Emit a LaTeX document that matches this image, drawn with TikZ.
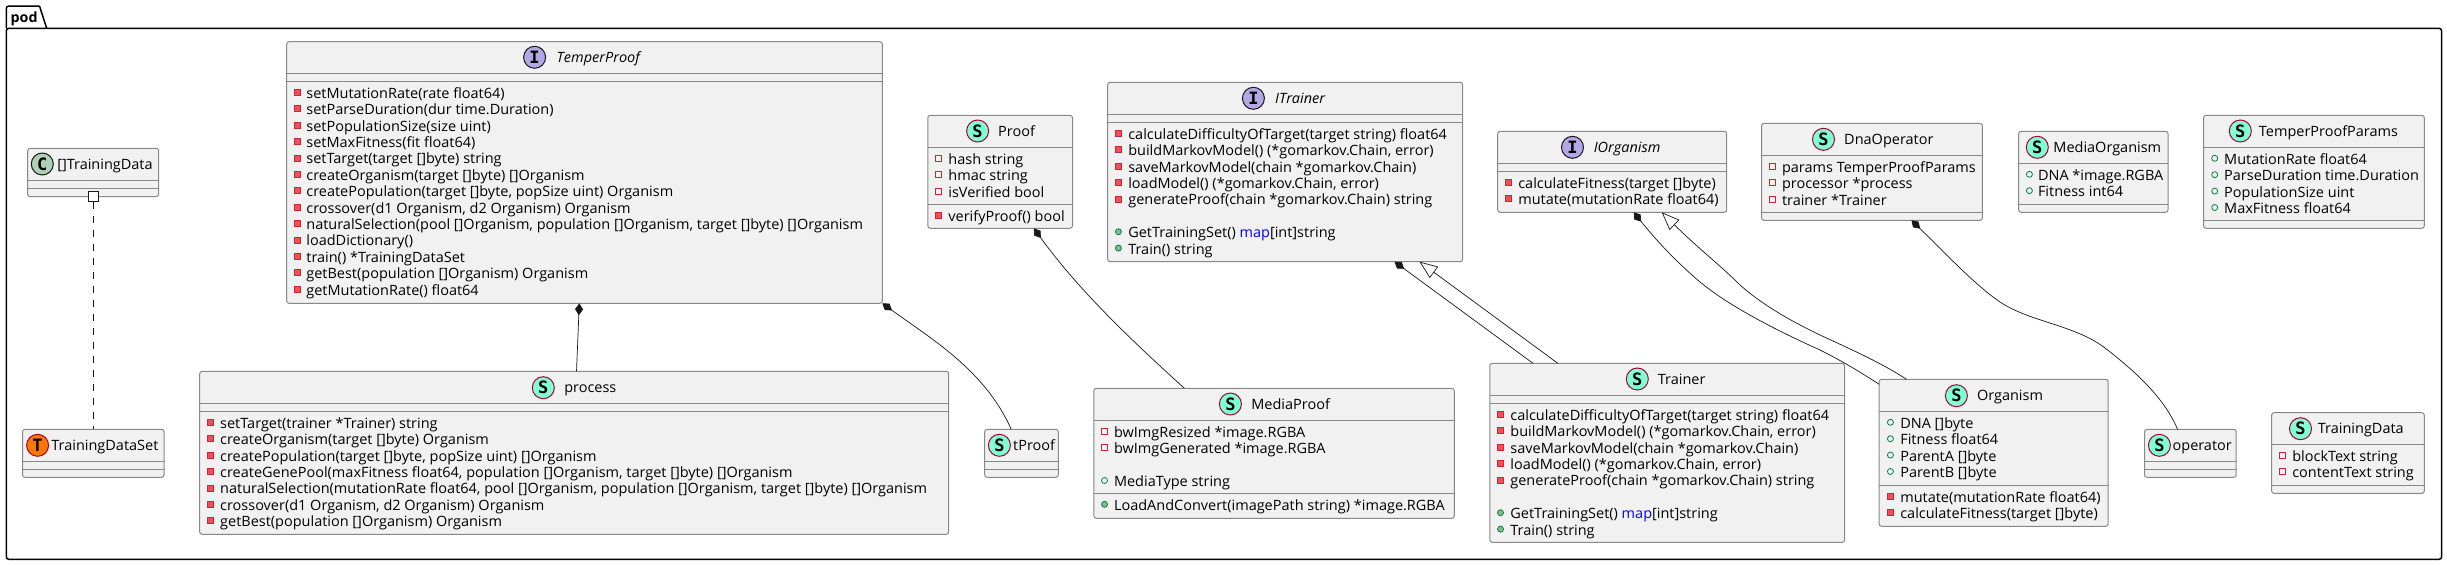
\documentclass[tikz,border=0pt]{standalone}
\usepackage{fontspec}
\setmainfont[FakeStretch=1.02]{Open Sans}
\newfontfamily\iconfont{DejaVu Sans Mono}
\usetikzlibrary{arrows.meta,shapes.geometric}
\definecolor{boxfill}{HTML}{F1F1F1}
\definecolor{boxline}{HTML}{888888}
\definecolor{ink}{HTML}{181818}
\definecolor{privfill}{HTML}{F24D5C}
\definecolor{privline}{HTML}{C82930}
\definecolor{pubfill}{HTML}{84BE84}
\definecolor{publine}{HTML}{038048}
\definecolor{spot}{HTML}{7FFFD4}
\definecolor{spotline}{HTML}{A80036}
\definecolor{spotT}{HTML}{FF7700}
\definecolor{spotI}{HTML}{B4A7E5}
\definecolor{spotC}{HTML}{ADD1B2}
\tikzset{
  x=1pt,y=-1pt,
  classbox/.style={draw=boxline,fill=boxfill,line width=1pt,rounded corners=2.5pt,inner sep=0pt,outer sep=0pt,anchor=north west},
  divline/.style={draw=boxline,line width=1pt},
  rowtext/.style={anchor=base west,inner sep=0pt,outer sep=0pt,font=\fontsize{14.2}{16}\selectfont,text=black},
  titletext/.style={rowtext},
  privm/.style={rectangle,draw=privline,fill=privfill,line width=.8pt,minimum size=6pt,inner sep=0pt},
  privf/.style={rectangle,draw=privline,fill=none,line width=.8pt,minimum size=6pt,inner sep=0pt},
  pubm/.style={circle,draw=publine,fill=pubfill,line width=.8pt,minimum size=6pt,inner sep=0pt},
  pubf/.style={circle,draw=publine,fill=none,line width=.8pt,minimum size=6pt,inner sep=0pt},
  icon/.style={circle,line width=1pt,minimum size=22pt,inner sep=0pt,font=\iconfont\bfseries\fontsize{17}{17}\selectfont},
  iconS/.style={icon,fill=spot,draw=spotline},
  iconT/.style={icon,fill=spotT,draw=spotline},
  iconI/.style={icon,fill=spotI,draw=ink},
  iconC/.style={icon,fill=spotC,draw=ink},
  conn/.style={draw=ink,line width=.7pt},
  comp/.style={conn,{Diamond[length=12pt,width=8pt,fill=ink]}-},
  ext/.style={conn,{Triangle[open,length=18pt,width=14pt,fill=white]}-},
}
\newcounter{txtn}
% name x1 y1 x2 y2
\newcommand\cbox[5]{\node[classbox,minimum width={(#4)-(#2)},minimum height={(#5)-(#3)}] (#1) at (#2,#3) {};}
\newcommand\dv[3]{\draw[divline] (#1,#3) -- (#2,#3);}
% icon style, letter, cx, cy, text x, text
\newcommand\ttl[7]{\node[#2] (#1icon) at (#4,#5) {#3}; \node[titletext] (#1title) at (#6,{#5+5}) {#7};}
% style, bullet x, text x, baseline, text
\newcommand\itm[5]{\stepcounter{txtn}\node[#1] (b\arabic{txtn}) at (#2,{#4-6}) {}; \node[rowtext] (t\arabic{txtn}) at (#3,#4) {#5};}
\newcommand\mapw{\textcolor{blue}{map}}
\begin{document}
\begin{tikzpicture}
\useasboundingbox (0,0) rectangle (2447,565);
\fill[white] (0,0) rectangle (2447,565);
% package
\draw[black,line width=1.5pt,rounded corners=2.5pt] (6.3,28.3) -- (6.3,6) -- (39.5,6);
\draw[black,line width=1.5pt] (39.5,6) -- (46.7,28.3);
\node[draw=black,line width=1.5pt,rounded corners=2.5pt,inner sep=0pt,outer sep=0pt,anchor=north west,minimum width=2435.3,minimum height=531] (pod) at (6.3,28.3) {};
\node[rowtext,font=\bfseries\fontsize{14}{16}\selectfont] (podlabel) at (10.7,22) {pod};
% []TrainingData
\cbox{trd}{27.7}{148.3}{158.6}{196.7}\dv{27.7}{158.6}{180.3}\dv{27.7}{158.6}{188.3}
\ttl{trd}{iconC}{C}{42.3}{164}{57.3}{[]TrainingData}
% TrainingDataSet
\cbox{tds}{22.5}{429.3}{164}{477.3}\dv{22.5}{164}{461.3}\dv{22.5}{164}{469.3}
\ttl{tds}{iconT}{T}{37.6}{445.3}{51.4}{TrainingDataSet}
% TemperProof
\cbox{tp}{286.7}{41.7}{882.3}{303.3}\dv{286.7}{882.3}{73.3}\dv{286.7}{882.3}{81.3}
\ttl{tp}{iconI}{I}{534.6}{57.3}{556.7}{\itshape TemperProof}
\itm{privm}{297.7}{306.4}{98.3}{setMutationRate(rate float64)}
\itm{privm}{297.7}{306.4}{114.7}{setParseDuration(dur time.Duration)}
\itm{privm}{297.7}{306.4}{131.1}{setPopulationSize(size uint)}
\itm{privm}{297.7}{306.4}{147.5}{setMaxFitness(fit float64)}
\itm{privm}{297.7}{306.4}{163.9}{setTarget(target []byte) string}
\itm{privm}{297.7}{306.4}{180.3}{createOrganism(target []byte) []Organism}
\itm{privm}{297.7}{306.4}{196.7}{createPopulation(target []byte, popSize uint) Organism}
\itm{privm}{297.7}{306.4}{213.1}{crossover(d1 Organism, d2 Organism) Organism}
\itm{privm}{297.7}{306.4}{229.5}{naturalSelection(pool []Organism, population []Organism, target []byte) []Organism}
\itm{privm}{297.7}{306.4}{245.9}{loadDictionary()}
\itm{privm}{297.7}{306.4}{262.3}{train() *TrainingDataSet}
\itm{privm}{297.7}{306.4}{278.7}{getBest(population []Organism) Organism}
\itm{privm}{297.7}{306.4}{295.1}{getMutationRate() float64}
% process
\cbox{proc}{199.7}{371.3}{948.7}{534.3}\dv{199.7}{948.7}{403.3}\dv{199.7}{948.7}{411.3}
\ttl{proc}{iconS}{S}{543.3}{387.7}{564.3}{process}
\itm{privm}{210.8}{220.2}{428.3}{setTarget(trainer *Trainer) string}
\itm{privm}{210.8}{220.2}{444.7}{createOrganism(target []byte) Organism}
\itm{privm}{210.8}{220.2}{461.1}{createPopulation(target []byte, popSize uint) []Organism}
\itm{privm}{210.8}{220.2}{477.5}{createGenePool(maxFitness float64, population []Organism, target []byte) []Organism}
\itm{privm}{210.8}{220.2}{493.9}{naturalSelection(mutationRate float64, pool []Organism, population []Organism, target []byte) []Organism}
\itm{privm}{210.8}{220.2}{510.3}{crossover(d1 Organism, d2 Organism) Organism}
\itm{privm}{210.8}{220.2}{526.7}{getBest(population []Organism) Organism}
% tProof
\cbox{tpr}{984.7}{429.3}{1058.3}{477.3}\dv{984.7}{1058.3}{461.3}\dv{984.7}{1058.3}{469.3}
\ttl{tpr}{iconS}{S}{999.4}{445.3}{1013.2}{tProof}
% Proof
\cbox{prf}{927.8}{115.3}{1072.5}{228.3}\dv{927.8}{1072.5}{147.3}\dv{927.8}{1072.5}{204.3}
\ttl{prf}{iconS}{S}{977.6}{131}{998.2}{Proof}
\itm{privf}{938.5}{948.4}{164.3}{hash string}
\itm{privf}{938.5}{948.4}{180.7}{hmac string}
\itm{privf}{938.5}{948.4}{197.1}{isVerified bool}
\itm{privm}{938.5}{948.4}{221.3}{verifyProof() bool}
% MediaProof
\cbox{mpr}{1093.9}{388.3}{1454.3}{518.3}\dv{1093.9}{1454.3}{420.3}\dv{1093.9}{1454.3}{493.3}
\ttl{mpr}{iconS}{S}{1230.4}{404}{1251.4}{MediaProof}
\itm{privf}{1104.5}{1114}{437.3}{bwImgResized *image.RGBA}
\itm{privf}{1104.5}{1114}{453.7}{bwImgGenerated *image.RGBA}
\itm{pubf}{1104.5}{1114}{486.5}{MediaType string}
\itm{pubm}{1104.5}{1114}{510.3}{LoadAndConvert(imagePath string) *image.RGBA}
% ITrainer
\cbox{itr}{1107.7}{82.3}{1462.6}{261.7}\dv{1107.7}{1462.6}{114.3}\dv{1107.7}{1462.6}{122.3}
\ttl{itr}{iconI}{I}{1253.4}{98.3}{1275.1}{\itshape ITrainer}
\itm{privm}{1118.4}{1128.3}{139.3}{calculateDifficultyOfTarget(target string) float64}
\itm{privm}{1118.4}{1128.3}{155.7}{buildMarkovModel() (*gomarkov.Chain, error)}
\itm{privm}{1118.4}{1128.3}{172.1}{saveMarkovModel(chain *gomarkov.Chain)}
\itm{privm}{1118.4}{1128.3}{188.5}{loadModel() (*gomarkov.Chain, error)}
\itm{privm}{1118.4}{1128.3}{204.9}{generateProof(chain *gomarkov.Chain) string}
\itm{pubm}{1118.4}{1128.3}{237.7}{GetTrainingSet() \mapw[int]string}
\itm{pubm}{1118.4}{1128.3}{254.1}{Train() string}
% Trainer
\cbox{trn}{1489.8}{363.3}{1844.6}{542.3}\dv{1489.8}{1844.6}{395.3}\dv{1489.8}{1844.6}{403.3}
\ttl{trn}{iconS}{S}{1637.3}{379}{1657.9}{Trainer}
\itm{privm}{1500.5}{1510.4}{420.3}{calculateDifficultyOfTarget(target string) float64}
\itm{privm}{1500.5}{1510.4}{436.7}{buildMarkovModel() (*gomarkov.Chain, error)}
\itm{privm}{1500.5}{1510.4}{453.1}{saveMarkovModel(chain *gomarkov.Chain)}
\itm{privm}{1500.5}{1510.4}{469.5}{loadModel() (*gomarkov.Chain, error)}
\itm{privm}{1500.5}{1510.4}{485.9}{generateProof(chain *gomarkov.Chain) string}
\itm{pubm}{1500.5}{1510.4}{518.7}{GetTrainingSet() \mapw[int]string}
\itm{pubm}{1500.5}{1510.4}{535.1}{Train() string}
% IOrganism
\cbox{iog}{1497.7}{131.3}{1726.7}{212.3}\dv{1497.7}{1726.7}{163.3}\dv{1497.7}{1726.7}{171.3}
\ttl{iog}{iconI}{I}{1572.5}{147.3}{1593.8}{\itshape IOrganism}
\itm{privm}{1508.4}{1518.3}{188.3}{calculateFitness(target []byte)}
\itm{privm}{1508.4}{1518.3}{204.7}{mutate(mutationRate float64)}
% Organism
\cbox{org}{1879.2}{379.3}{2108.2}{526.3}\dv{1879.2}{2108.2}{411.3}\dv{1879.2}{2108.2}{485.3}
\ttl{org}{iconS}{S}{1956.4}{395.7}{1977}{Organism}
\itm{pubf}{1890.4}{1900.3}{428.3}{DNA []byte}
\itm{pubf}{1890.4}{1900.3}{444.7}{Fitness float64}
\itm{pubf}{1890.4}{1900.3}{461.1}{ParentA []byte}
\itm{pubf}{1890.4}{1900.3}{477.5}{ParentB []byte}
\itm{privm}{1890.4}{1900.3}{502.3}{mutate(mutationRate float64)}
\itm{privm}{1890.4}{1900.3}{518.7}{calculateFitness(target []byte)}
% DnaOperator
\cbox{dna}{1761.5}{123.3}{1982.4}{220.3}\dv{1761.5}{1982.4}{155.3}\dv{1761.5}{1982.4}{212.3}
\ttl{dna}{iconS}{S}{1823.5}{139.3}{1844.2}{DnaOperator}
\itm{privf}{1772.5}{1782}{172.3}{params TemperProofParams}
\itm{privf}{1772.5}{1782}{188.7}{processor *process}
\itm{privf}{1772.5}{1782}{205.1}{trainer *Trainer}
% operator
\cbox{opr}{2144.5}{429.3}{2236.2}{477.3}\dv{2144.5}{2236.2}{461.3}\dv{2144.5}{2236.2}{469.3}
\ttl{opr}{iconS}{S}{2159.4}{445.3}{2172.6}{operator}
% TrainingData
\cbox{tdt}{2271.6}{412.7}{2424.3}{493.3}\dv{2271.6}{2424.3}{444.3}\dv{2271.6}{2424.3}{485.3}
\ttl{tdt}{iconS}{S}{2300.5}{428.7}{2317.9}{TrainingData}
\itm{privf}{2282.4}{2292.3}{461.3}{blockText string}
\itm{privf}{2282.4}{2292.3}{477.7}{contentText string}
% MediaOrganism
\cbox{mog}{2018.7}{131.3}{2168}{212.3}\dv{2018.7}{2168}{163.3}\dv{2018.7}{2168}{204.3}
\ttl{mog}{iconS}{S}{2037.3}{147.3}{2053.4}{MediaOrganism}
\itm{pubf}{2029.4}{2038}{180.3}{DNA *image.RGBA}
\itm{pubf}{2029.4}{2038}{196.7}{Fitness int64}
% TemperProofParams
\cbox{tpp}{2203.5}{115.3}{2424.3}{228.3}\dv{2203.5}{2424.3}{147.3}\dv{2203.5}{2424.3}{220.3}
\ttl{tpp}{iconS}{S}{2240.3}{131}{2258.9}{TemperProofParams}
\itm{pubf}{2214.7}{2224.2}{164.3}{MutationRate float64}
\itm{pubf}{2214.7}{2224.2}{180.7}{ParseDuration time.Duration}
\itm{pubf}{2214.7}{2224.2}{197.1}{PopulationSize uint}
\itm{pubf}{2214.7}{2224.2}{213.5}{MaxFitness float64}
% connectors
\node[rectangle,draw=ink,fill=white,line width=1pt,minimum size=10pt,inner sep=0pt] (sq) at ([xshift=65.6pt]trd.south west) {};
\draw[draw=ink,line width=.7pt,dash pattern=on 7pt off 7pt] (sq.south) -- (sq.south |- tds.north);
\draw[comp] ([xshift=292.6pt]tp.south west) -- ([xshift=376.8pt]proc.north west);
\draw[comp] (tp.south east) .. controls (930,338) and (985,370) .. ([xshift=26.5pt]tpr.north west);
\draw[comp] ([xshift=106pt]prf.south west) .. controls (1075,285) and (1120,330) .. ([xshift=90.5pt]mpr.north west);
\draw[comp] ([xshift=286.8pt]itr.south west) -- ([xshift=43.2pt]trn.north west);
\draw[ext] ([xshift=311.8pt]itr.south west) -- ([xshift=68pt]trn.north west);
\draw[comp] ([xshift=136pt]iog.south west) .. controls (1660,245) and (1680,265) .. (1700,282) .. controls (1730,307) and (1780,332) .. (1820,350) .. controls (1844,362) and (1860,372) .. ([yshift=-5pt]org.north west);
\draw[ext] ([xshift=164pt]iog.south west) .. controls (1700,250) and (1720,265) .. (1740,285) .. controls (1765,307) and (1795,323) .. (1820,335) .. controls (1850,349) and (1880,362) .. ([xshift=27.3pt]org.north west);
\draw[comp] ([xshift=150pt]dna.south west) .. controls (1945,253) and (1975,285) .. (2000,302) .. controls (2030,322) and (2075,325) .. (2105,348) .. controls (2140,375) and (2165,400) .. ([xshift=33.1pt]opr.north west);
\end{tikzpicture}
\end{document}
